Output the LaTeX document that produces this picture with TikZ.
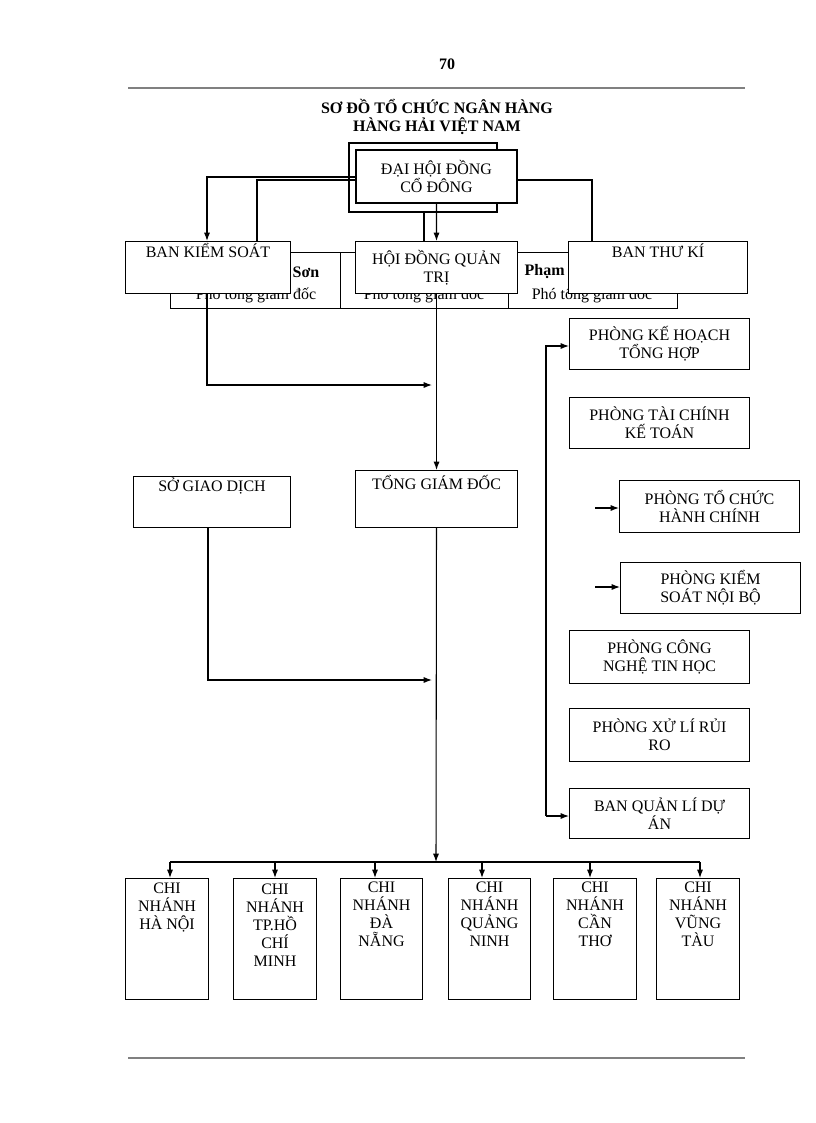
\documentclass[tikz,border=0pt]{standalone}
\usepackage{fontspec}
\setmainfont{Liberation Serif}
\usetikzlibrary{arrows.meta}
\tikzset{
  box/.style={draw, thick, fill=white, align=center, inner sep=0pt},
  arr/.style={-{Latex[length=2.2mm,width=1.6mm]}},
  rule/.style={draw=gray, line width=1.6pt}
}
\begin{document}
\begin{tikzpicture}[x=0.75pt, y=-0.75pt, font=\fontsize{12}{13.5}\selectfont]
    \useasboundingbox (0,0) rectangle (816,1123);

    % header
    \node[font=\bfseries\fontsize{12}{13.5}\selectfont] (page) at (447,64) {70};
    \draw[rule] (128,88) -- (745,88);
    \node[font=\bfseries\fontsize{12}{13.5}\selectfont, align=center] (title) at (437,117) {SƠ ĐỒ TỔ CHỨC NGÂN HÀNG\\HÀNG HẢI VIỆT NAM};

    % table behind
    \draw (170,252) rectangle (677,308);
    \draw (340,252) -- (340,308);
    \draw (508,252) -- (508,308);
    \node at (256,295) {Phó tổng giám  đốc};
    \node at (424,295) {Phó tổng giám  đốc};
    \node at (592,295) {Phó tổng giám  đốc};
    \node[font=\bfseries\fontsize{12}{13.5}\selectfont, anchor=west] at (288,272) {Sơn};
    \node[font=\bfseries\fontsize{12}{13.5}\selectfont, anchor=west] at (520,272) {Phạm};

    % top
    \draw[thick] (349,143) rectangle (497,212);
    \node[box, minimum width=161*0.75pt, minimum height=53*0.75pt] (dhd) at (436.5,176.5) {ĐẠI HỘI ĐỒNG\\CỔ ĐÔNG};
    \node[box, minimum width=165*0.75pt, minimum height=52*0.75pt, anchor=north west] (bks) at (125,241) {BAN KIỂM SOÁT\\[1em]};
    \node[box, minimum width=162*0.75pt, minimum height=52*0.75pt, anchor=north west] (hdqt) at (355,241) {HỘI ĐỒNG QUẢN\\TRỊ};
    \node[box, minimum width=179*0.75pt, minimum height=52*0.75pt, anchor=north west] (btk) at (568,241) {BAN THƯ KÍ\\[1em]};

    \draw[thick, arr] (dhd.west |- 0,177) -| (bks.north -| 207,0);
    \draw[thick] (dhd.west |- 0,180) -| (bks.north -| 257,0);
    \draw[thick] (dhd.east |- 0,180) -| (btk.north -| 592,0);
    \draw[thick, arr] (dhd) -- (hdqt);
    \draw[thick] (424,212) -- (hdqt.north -| 424,0);

    % middle
    \node[box, minimum width=157*0.75pt, minimum height=51*0.75pt, anchor=north west] (sgd) at (133,476) {SỞ GIAO DỊCH\\[1em]};
    \node[box, minimum width=162*0.75pt, minimum height=57*0.75pt, anchor=north west] (tgd) at (355,470) {TỔNG GIÁM ĐỐC\\[1em]};
    \coordinate (m1) at (432,385);
    \coordinate (m2) at (432,680);
    \draw[thick, arr] (bks.south -| 207,0) |- (m1);
    \draw[thick, arr] (hdqt) -- (tgd);
    \draw[thick, arr] (sgd.south -| 208,0) |- (m2);

    % right column
    \node[box, minimum width=180*0.75pt, minimum height=51*0.75pt, anchor=north west] (p1) at (569,318) {PHÒNG KẾ HOẠCH\\TỔNG HỢP};
    \node[box, minimum width=180*0.75pt, minimum height=51*0.75pt, anchor=north west] (p2) at (569,397) {PHÒNG TÀI CHÍNH\\KẾ TOÁN};
    \node[box, minimum width=180*0.75pt, minimum height=52*0.75pt, anchor=north west] (p3) at (619,480) {PHÒNG TỔ CHỨC\\HÀNH CHÍNH};
    \node[box, minimum width=180*0.75pt, minimum height=51*0.75pt, anchor=north west] (p4) at (620,562) {PHÒNG KIỂM\\SOÁT NỘI BỘ};
    \node[box, minimum width=180*0.75pt, minimum height=53*0.75pt, anchor=north west] (p5) at (569,630) {PHÒNG CÔNG\\NGHỆ TIN HỌC};
    \node[box, minimum width=180*0.75pt, minimum height=53*0.75pt, anchor=north west] (p6) at (569,708) {PHÒNG XỬ LÍ RỦI\\RO};
    \node[box, minimum width=180*0.75pt, minimum height=50*0.75pt, anchor=north west] (p7) at (569,788) {BAN QUẢN LÍ DỰ\\ÁN};
    \coordinate (c3) at (595,508);
    \coordinate (c4) at (595,587);
    \draw[thick, arr] (546,816) |- (p1.west |- 0,346);
    \draw[thick, arr] (546,816) -- (p7.west |- 0,816);
    \draw[thick, arr] (c3) -- (p3.west |- c3);
    \draw[thick, arr] (c4) -- (p4.west |- c4);

    % branches
    \coordinate (bus) at (436,862);
    \draw[thick, arr] (tgd) -- (bus);
    \draw[thick] (170,862) -- (700,862);
    \foreach \n/\xl/\xr/\xa/\txt in {
      b1/125/208/170/{CHI\\NHÁNH\\HÀ NỘI\\[3em]},
      b2/233/316/275/{CHI\\NHÁNH\\TP.HỒ\\CHÍ\\MINH\\[0.6em]},
      b3/340/422/375/{CHI\\NHÁNH\\ĐÀ\\NẴNG\\[2em]},
      b4/448/530/482/{CHI\\NHÁNH\\QUẢNG\\NINH\\[2em]},
      b5/553/636/590/{CHI\\NHÁNH\\CẦN\\THƠ\\[2em]},
      b6/656/739/700/{CHI\\NHÁNH\\VŨNG\\TÀU\\[2em]}} {
      \node[box, anchor=north west, minimum width={(\xr-\xl)*0.75pt}, minimum height=121*0.75pt] (\n) at (\xl,878) {\txt};
      \draw[thick, arr] (\xa,862) -- (\n.north -| \xa,0);
    }

    % footer
    \draw[rule] (128,1058) -- (745,1058);
\end{tikzpicture}
\end{document}
